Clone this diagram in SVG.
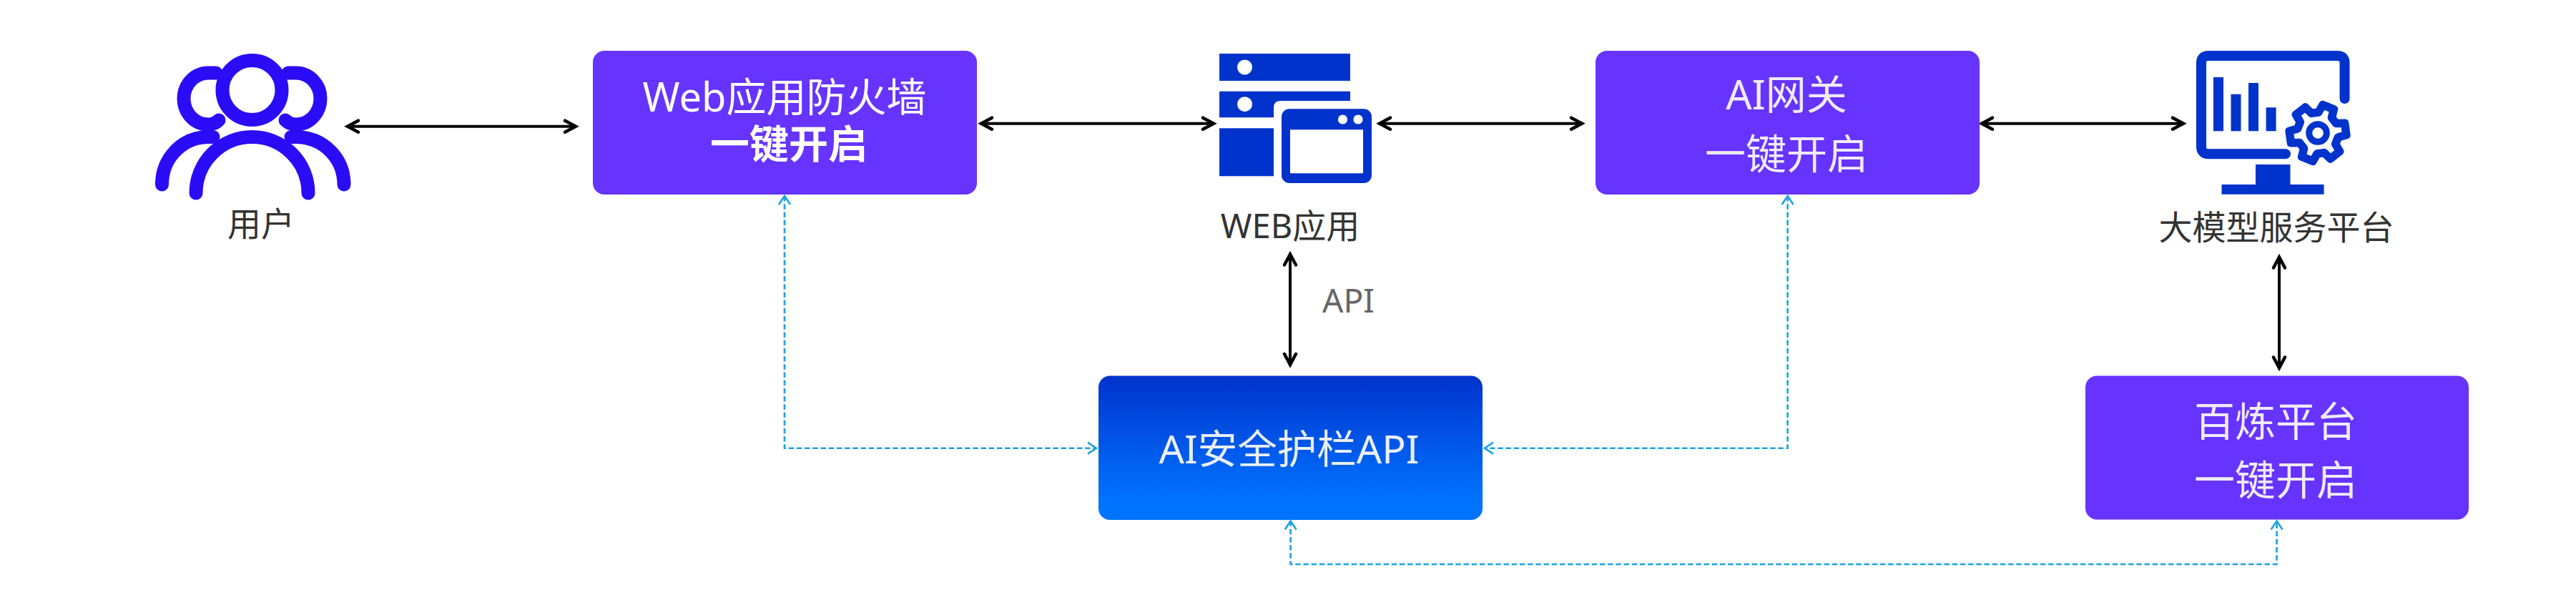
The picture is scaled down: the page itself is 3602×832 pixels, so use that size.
<svg xmlns="http://www.w3.org/2000/svg" width="3602" height="832" viewBox="0 0 3602 832">
<style>
text{font-family:"Noto Sans","Noto Sans CJK SC",sans-serif;text-anchor:middle}
.box{fill:#6633ff}
.lbl{font-size:47px;fill:#333}
.w{font-size:56px;fill:#fff}
.s{font-size:57px;fill:#efebf9}
.ic{fill:#0033cc}
.pp{fill:none;stroke:#2a0cf6;stroke-width:19;stroke-linecap:round}
.bk{fill:none;stroke:#000;stroke-width:4;marker-start:url(#ab);marker-end:url(#ab)}
.da{fill:none;stroke:#1ba1e2;stroke-width:2.600;stroke-dasharray:7.500 3.700;marker-start:url(#ad);marker-end:url(#ad)}
</style>
<defs>
<marker id="ab" markerUnits="userSpaceOnUse" orient="auto-start-reverse" overflow="visible" markerWidth="1" markerHeight="1" refX="0" refY="0"><path d="M-15-8L0 0L-15 8" fill="none" stroke="#000" stroke-width="4.500" stroke-linecap="round"/></marker>
<marker id="ad" markerUnits="userSpaceOnUse" orient="auto-start-reverse" overflow="visible" markerWidth="1" markerHeight="1" refX="0" refY="0"><path d="M-12-8L0 0L-12 8" fill="none" stroke="#1ba1e2" stroke-width="2.600"/></marker>
<linearGradient id="g" x1="0" y1="0" x2="0" y2="1"><stop offset="0" stop-color="#0033cc"/><stop offset=".86" stop-color="#0073ff"/></linearGradient>
</defs>
<g id="connectors">
<path class="bk" d="M486 176.700H805"/>
<path class="bk" d="M1372 172.700H1697"/>
<path class="bk" d="M1929 172.700H2212"/>
<path class="bk" d="M2771 172.700H3053"/>
<path class="bk" d="M1804 355.500V510"/>
<path class="bk" d="M3187 359.500V514.500"/>
<path class="da" d="M1097 274V626.700H1533"/>
<path class="da" d="M2499.600 274V626.700H2076"/>
<path class="da" d="M1804.600 728.500V789H3183.600V728.500"/>
</g>
<g id="user">
<path class="pp" d="M302 102H291A34 36 0 0 0 291 174C297 174 302 172 306 168"/>
<path class="pp" d="M403 102H414A34 36 0 0 1 414 174C408 174 403 172 399 168"/>
<ellipse cx="352.500" cy="126" rx="41.500" ry="41.500" fill="none" stroke="#2a0cf6" stroke-width="19"/>
<path class="pp" d="M226.500 258C226.500 222 254 191.500 292 191.500H298"/>
<path class="pp" d="M481 258C481 222 453 191.500 413 191.500H407"/>
<path class="pp" d="M274 270A78.500 78.500 0 0 1 431 270"/>
<text class="lbl" x="365" y="330">用户</text>
</g>
<g id="waf">
<rect class="box" x="829" y="71" width="537" height="201" rx="16"/>
<text class="w" x="1097" y="156">Web应用防火墙</text>
<text class="w" style="font-size:55px" x="1103" y="221" font-weight="700">一键开启</text>
</g>
<g id="web">
<rect class="ic" x="1705" y="75" width="183" height="38"/>
<path class="ic" d="M1705 127.700H1888V141H1790Q1781 141 1781 151V164.300H1705Z"/>
<rect class="ic" x="1705" y="179.300" width="76" height="67"/>
<circle cx="1740.500" cy="94" r="10.500" fill="#fff"/>
<circle cx="1740.500" cy="145.700" r="10.500" fill="#fff"/>
<rect class="ic" x="1792" y="152.300" width="126" height="103.700" rx="11"/>
<rect x="1804" y="181.300" width="102" height="61" fill="#fff"/>
<circle cx="1877.500" cy="167" r="6.600" fill="#fff"/>
<circle cx="1899" cy="167" r="6.600" fill="#fff"/>
<text class="lbl" x="1804" y="332.700">WEB应用</text>
</g>
<g id="gateway">
<rect class="box" x="2231" y="71" width="537" height="201" rx="16"/>
<text class="s" x="2498" y="152.700">AI网关</text>
<text class="s" x="2498" y="236">一键开启</text>
</g>
<g id="platform">
<path d="M3196 215.300H3088Q3078 215.300 3078 205V88Q3078 78 3088 78H3268.500Q3278.500 78 3278.500 88V138" fill="none" stroke="#0033cc" stroke-width="14" stroke-linecap="round"/>
<rect class="ic" x="3095" y="108" width="14" height="75.300"/>
<rect class="ic" x="3119.500" y="131.700" width="14" height="51.600"/>
<rect class="ic" x="3144" y="116" width="14" height="67.300"/>
<rect class="ic" x="3168.600" y="150.300" width="14" height="33"/>
<path class="ic" d="M3154 230H3202.500V258H3249.500V271.700H3106.500V258H3154Z"/>
<path transform="translate(3241 186)" fill="none" stroke="#0033cc" stroke-width="11.500" stroke-linejoin="round" d="M25.600-13.600L37.600-13.700L39.900 2.800L28.400 6L24.600 15.400L30.600 25.700L17.500 36L9 27.600L-1 29L-6.900 39.400L-22.400 33.200L-19.400 21.600L-25.600 13.600L-37.600 13.700L-39.900-2.800L-28.400-6L-24.600-15.400L-30.600-25.700L-17.500-36L-9-27.600L1-29L6.900-39.400L22.400-33.200L19.400-21.600Z"/>
<circle cx="3241" cy="186" r="12.300" fill="none" stroke="#0033cc" stroke-width="9"/>
<text class="lbl" x="3183" y="335">大模型服务平台</text>
</g>
<g id="guardrail">
<rect x="1536" y="525.500" width="537" height="201.500" rx="16" fill="url(#g)"/>
<text class="w" style="fill:#e9eff8;font-size:55.500px" x="1802.500" y="648">AI安全护栏API</text>
</g>
<g id="bailian">
<rect class="box" x="2916" y="525.500" width="536" height="201" rx="16"/>
<text class="s" x="3182" y="610">百炼平台</text>
<text class="s" x="3182" y="692">一键开启</text>
</g>
<text x="1885.500" y="436.700" font-size="46" fill="#666">API</text>
</svg>
